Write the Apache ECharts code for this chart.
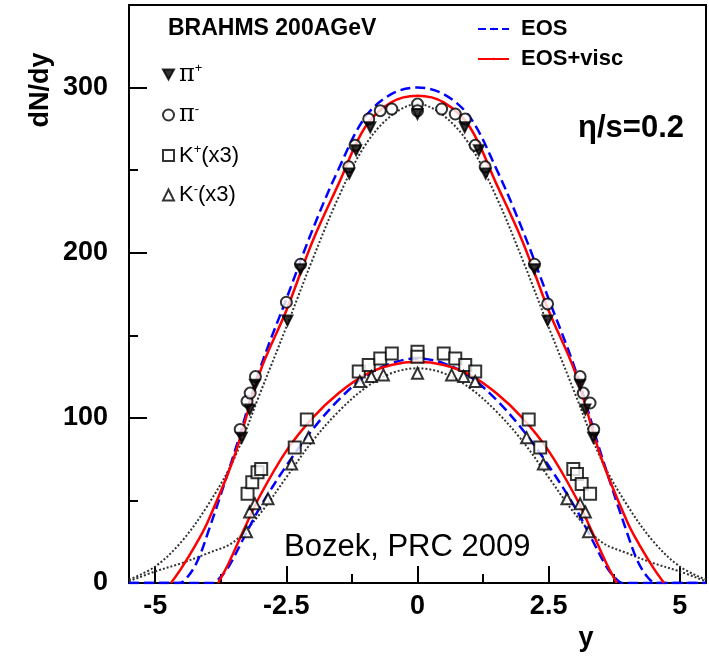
<!DOCTYPE html>
<html>
<head>
<meta charset="utf-8">
<script src="https://cdn.jsdelivr.net/npm/echarts@6/dist/echarts.min.js"></script>
<style>
html,body{margin:0;padding:0;background:#fff;}
#c{width:709px;height:657px;}
</style>
</head>
<body>
<div id="c"></div>
<script>
// ---- axis ticks ----
const xMajorTicks = [-5, -2.5, 0, 2.5, 5];
const xMinorTicks = [-3.75, -1.25, 1.25, 3.75];
const yMajorTicks = [0, 100, 200, 300];
const yMinorTicks = [50, 150, 250];

// ---- BRAHMS data ----
const piPlusY  = [-3.35,-3.2,-3.1,-2.48,-2.23,-1.3,-1.17,-0.9,0,0.9,1.17,1.3,2.23,2.48,3.1,3.2,3.35];
const piPlusV  = [88,105,120,159,190,248,262,276,284,276,262,248,190,159,120,105,88];
const piMinusY = [-3.38,-3.25,-3.19,-3.09,-2.5,-2.23,-1.31,-1.19,-0.93,-0.71,-0.49,0,0,0.46,0.72,0.91,1.1,1.29,2.23,2.48,3.1,3.16,3.29,3.36];
const piMinusV = [93,110,115,125,170,193,252,265,281,286,287,290,286,287,284,281,265,252,193,169,125,115,109,93];
const kPlusY   = [-3.24,-3.15,-3.05,-2.98,-2.34,-2.11,-1.12,-0.93,-0.71,-0.49,0,0,0.5,0.72,0.91,1.1,2.12,2.34,2.97,3.04,3.13,3.29];
const kPlusV   = [54,61,67,69,82,99,128,132,136,139,140,137,139,136,132,128,99,82,69,66,60,54];
const kMinusY  = [-3.26,-3.2,-3.1,-2.85,-2.4,-2.08,-1.1,-0.88,-0.65,0,0.65,0.88,1.1,2.08,2.4,2.85,3.1,3.2,3.26];
const kMinusV  = [31,43,48,51,72,88,122,125,126,127,126,125,122,88,72,51,48,43,31];

// ---- hydro curves ----
const piEosY  = [-5.5,-5,-4.55,-4.4,-4.2,-4,-3.5,-3,-2.5,-2,-1.5,-1,-0.5,0,0.5,1,1.5,2,2.5,3,3.5,4,4.2,4.4,4.55,5,5.5];
const piEosV  = [0,0,0,3,13,30,78,130,172,214,251,282,296,300,296,282,251,214,172,130,78,30,13,3,0,0,0];
const piVisY  = [-4.7,-4.5,-4.25,-4,-3.5,-3,-2.5,-2,-1.5,-1,-0.5,0,0.5,1,1.5,2,2.5,3,3.5,4,4.25,4.5,4.7];
const piVisV  = [0,9,22,37,76,128,165,207,242,276,291,295,291,276,242,207,165,128,76,37,22,9,0];
const piDotY  = [-5.5,-5,-4.5,-4,-3.5,-3,-2.5,-2,-1.5,-1,-0.5,0,0.5,1,1.5,2,2.5,3,3.5,4,4.5,5,5.5];
const piDotV  = [2,10,25,47,75,115,155,196,234,265,283,290,283,265,234,196,155,115,75,47,25,10,2];
const kEosY   = [-5.5,-4.5,-4,-3.9,-3.8,-3.6,-3.3,-3,-2.5,-2,-1.5,-1,-0.5,0,0.5,1,1.5,2,2.5,3,3.3,3.6,3.8,3.9,4,4.5,5.5];
const kEosV   = [0,0,0,0,2,10,28,46,71,93,111,125,133,136,133,125,111,93,71,46,28,10,2,0,0,0,0];
const kVisY   = [-3.8,-3.6,-3.3,-3,-2.5,-2,-1.5,-1,-0.5,0,0.5,1,1.5,2,2.5,3,3.3,3.6,3.8];
const kVisV   = [0,12,33,53,80,100,115,126,132,134,132,126,115,100,80,53,33,12,0];
const kDotY   = [-5.5,-5,-4.5,-4,-3.5,-3,-2.5,-2,-1.5,-1,-0.5,0,0.5,1,1.5,2,2.5,3,3.5,4,4.5,5,5.5];
const kDotV   = [1,7,12,18,25,42,64,86,104,118,127,130,127,118,104,86,64,42,25,18,12,7,1];

const zip = (a, b) => a.map((x, i) => [x, b[i]]);
const FONT = '"Liberation Sans", Arial, Helvetica, sans-serif';

const chart = echarts.init(document.getElementById('c'), null, {renderer: 'canvas'});

function curve(name, ys, vs, color, type, width) {
  return {
    name: name, type: 'line', xAxisIndex: 0, yAxisIndex: 0,
    data: zip(ys, vs), smooth: 0.35, showSymbol: false, symbol: 'none',
    lineStyle: {color: color, type: type, width: width},
    itemStyle: {color: color},
    z: 3, silent: true, clip: true
  };
}
function pts(name, ys, vs, symbol, size, fill, rotate) {
  return {
    name: name, type: 'scatter', xAxisIndex: 0, yAxisIndex: 0,
    data: zip(ys, vs), symbol: symbol, symbolSize: size, symbolRotate: rotate || 0,
    itemStyle: {color: fill, borderColor: '#000', borderWidth: 2},
    z: 5, silent: true
  };
}

const option = {
  animation: false,
  backgroundColor: '#fff',
  grid: {left: 129, right: 3, top: 5, bottom: 74, show: true, borderColor: '#000', borderWidth: 2, backgroundColor: 'transparent'},
  xAxis: [
    {type: 'value', min: -5.5, max: 5.5, position: 'bottom',
     axisLine: {show: true, onZero: false, lineStyle: {color: '#000', width: 2}},
     axisTick: {show: true, inside: true, length: 17, customValues: xMajorTicks, lineStyle: {color: '#000', width: 2}},
     axisLabel: {show: true, customValues: xMajorTicks, margin: 10, color: '#000', fontSize: 27, fontWeight: 'bold', fontFamily: FONT,
                 formatter: v => String(v)},
     splitLine: {show: false}},
    {type: 'value', min: -5.5, max: 5.5, position: 'bottom',
     axisLine: {show: false, onZero: false},
     axisTick: {show: true, inside: true, length: 9, customValues: xMinorTicks, lineStyle: {color: '#000', width: 2}},
     axisLabel: {show: false}, splitLine: {show: false}}
  ],
  yAxis: [
    {type: 'value', min: 0, max: 350, position: 'left',
     axisLine: {show: true, onZero: false, lineStyle: {color: '#000', width: 2}},
     axisTick: {show: true, inside: true, length: 18, customValues: yMajorTicks, lineStyle: {color: '#000', width: 2}},
     axisLabel: {show: true, customValues: yMajorTicks, margin: 21, color: '#000', fontSize: 27, fontWeight: 'bold', fontFamily: FONT},
     splitLine: {show: false}},
    {type: 'value', min: 0, max: 350, position: 'left',
     axisLine: {show: false, onZero: false},
     axisTick: {show: true, inside: true, length: 9, customValues: yMinorTicks, lineStyle: {color: '#000', width: 2}},
     axisLabel: {show: false}, splitLine: {show: false}}
  ],
  legend: [
    {orient: 'vertical', left: 162, top: 62, padding: 0, itemWidth: 11, itemHeight: 11, itemGap: 16,
     data: [
       {name: 'pip', icon: 'path://M0,0L10,0L5,9Z'},
       {name: 'pim', icon: 'circle'},
       {name: 'kp', icon: 'rect'},
       {name: 'km', icon: 'triangle'}
     ],
     formatter: function (n) {
       return {pip: '{g|π}{s|+}', pim: '{g|π}{s|-}', kp: '{t|K}{s|+}{t|(x3)}', km: '{t|K}{s|-}{t|(x3)}'}[n];
     },
     textStyle: {color: '#000', fontFamily: FONT, fontSize: 22,
       rich: {
         g: {fontSize: 24, fontFamily: '"DejaVu Serif", serif', color: '#000'},
         t: {fontSize: 22, fontFamily: FONT, color: '#000'},
         s: {fontSize: 13, fontFamily: FONT, color: '#000', verticalAlign: 'top', padding: [0,0,12,0]}
       }},
     selectedMode: false},
    {orient: 'vertical', left: 477, top: 18, padding: 0, itemWidth: 31, itemHeight: 3, itemGap: 8,
     data: ['EOS', 'EOS+visc'],
     textStyle: {color: '#000', fontFamily: FONT, fontSize: 22, fontWeight: 'bold', padding: [0,0,0,7]},
     selectedMode: false}
  ],
  series: [
    curve('pidot', piDotY, piDotV, '#333', 'dotted', 2),
    curve('kdot', kDotY, kDotV, '#333', 'dotted', 2),
    curve('EOS', piEosY, piEosV, '#0000ff', 'dashed', 2.5),
    curve('EOSk', kEosY, kEosV, '#0000ff', 'dashed', 2.5),
    curve('EOS+visc', piVisY, piVisV, '#ff0000', 'solid', 2.5),
    curve('EOS+visck', kVisY, kVisV, '#ff0000', 'solid', 2.5),
    pts('kp', kPlusY, kPlusV, 'rect', 12, '#fff'),
    pts('km', kMinusY, kMinusV, 'triangle', 11, '#fff'),
    pts('pim', piMinusY, piMinusV, 'circle', 11, '#fff'),
    pts('pip', piPlusY, piPlusV, 'triangle', 10, '#000', 180)
  ],
  graphic: [
    {type: 'text', left: 168, top: 17, style: {text: 'BRAHMS 200AGeV', font: 'bold 23px ' + FONT, fill: '#000'}},
    {type: 'text', left: 578, top: 113, style: {text: 'η/s=0.2', font: 'bold 31px ' + FONT, fill: '#000'}},
    {type: 'text', left: 284, top: 532, style: {text: 'Bozek, PRC 2009', font: '31px ' + FONT, fill: '#000'}},
    {type: 'text', x: 41, y: 90, rotation: Math.PI / 2, style: {text: 'dN/dy', font: 'bold 27px ' + FONT, fill: '#000', align: 'center', verticalAlign: 'middle'}},
    {type: 'text', x: 586, y: 639, style: {text: 'y', font: 'bold 27px ' + FONT, fill: '#000', align: 'center', verticalAlign: 'middle'}}
  ]
};
chart.setOption(option);
</script>
</body>
</html>
